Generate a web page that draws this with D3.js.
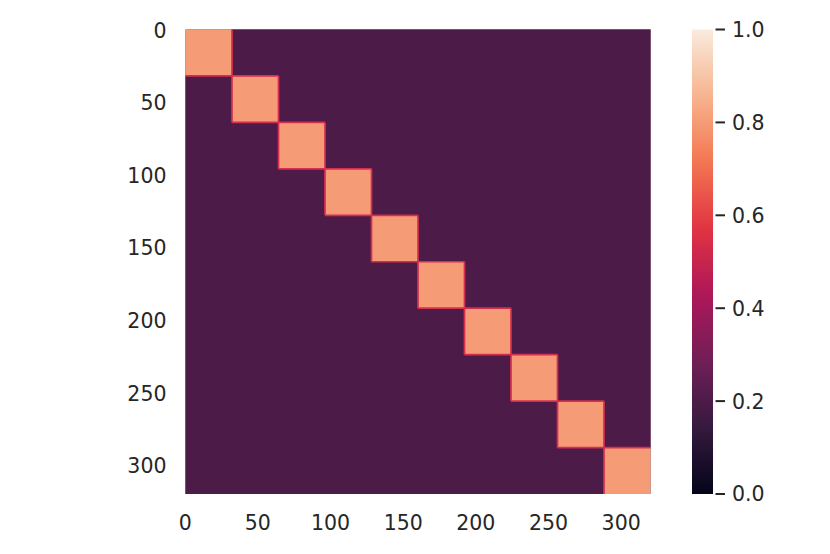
<!DOCTYPE html>
<html>
<head>
<meta charset="utf-8">
<script src="https://cdn.jsdelivr.net/npm/d3@7"></script>
<style>
  body { margin: 0; background: #fff; }
  text { font-family: "DejaVu Sans", sans-serif; fill: #262626; }
</style>
</head>
<body>
<div id="chart"></div>
<script>
// block boundaries of the 320 x 320 matrix (10 blocks of 32)
const blockEdges = [0, 32, 64, 96, 128, 160, 192, 224, 256, 288, 320]
const diagValue = 0.8
const offDiagValue = 0.2
const axisTicks = [0, 50, 100, 150, 200, 250, 300]
const colorTicks = [0.0, 0.2, 0.4, 0.6, 0.8, 1.0]
// seaborn "rocket" colour stops
const rocketStops = [0, 0.143, 0.286, 0.429, 0.571, 0.714, 0.857, 1]
const rocketColors = ["#03051a", "#35193e", "#701f57", "#ad1759", "#e13342", "#f37651", "#f6b48f", "#faebdd"]

const W = 830, H = 554
const IMG = { LEFT: 185.5, RIGHT: 650.5, TOP: 29.5, BOTTOM: 494 }
const CBAR = { LEFT: 692, RIGHT: 713 }
const FONT = 20.5

const svg = d3.select("#chart").append("svg")
    .attr("width", W)
    .attr("height", H)

const x = d3.scaleLinear().domain([-0.5, 319.5]).range([IMG.LEFT, IMG.RIGHT])
const y = d3.scaleLinear().domain([-0.5, 319.5]).range([IMG.TOP, IMG.BOTTOM])
const color = d3.scaleLinear().domain(rocketStops).range(rocketColors).interpolate(d3.interpolateRgb)

// cells: one per block pair
const blocks = d3.pairs(blockEdges)
const cells = []
blocks.forEach((r, i) => blocks.forEach((c, j) => {
    cells.push({ r0: r[0], r1: r[1], c0: c[0], c1: c[1], value: i === j ? diagValue : offDiagValue })
}))

// underlay so anti-aliased cell seams don't show
svg.append("rect")
    .attr("x", x(-0.5)).attr("y", y(-0.5))
    .attr("width", x(319.5) - x(-0.5))
    .attr("height", y(319.5) - y(-0.5))
    .attr("fill", color(offDiagValue))

svg.append("g").selectAll("rect")
    .data(cells)
    .enter().append("rect")
        .attr("x", d => x(d.c0 - 0.5))
        .attr("y", d => y(d.r0 - 0.5))
        .attr("width", d => x(d.c1 - 0.5) - x(d.c0 - 0.5))
        .attr("height", d => y(d.r1 - 0.5) - y(d.r0 - 0.5))
        .attr("fill", d => color(d.value))

// interpolation seams at internal block boundaries
const inner = blockEdges.slice(1, -1)
const seams = svg.append("g")
    .attr("stroke", "#d52f50")
    .attr("stroke-width", 1.7)
seams.selectAll(".v").data(inner).enter().append("line")
    .attr("x1", k => x(k - 0.5)).attr("x2", k => x(k - 0.5))
    .attr("y1", k => y(k - 32 - 0.5)).attr("y2", k => y(k + 32 - 0.5))
seams.selectAll(".h").data(inner).enter().append("line")
    .attr("y1", k => y(k - 0.5)).attr("y2", k => y(k - 0.5))
    .attr("x1", k => x(k - 32 - 0.5)).attr("x2", k => x(k + 32 - 0.5))

// axis labels (no visible tick marks)
svg.append("g").selectAll("text")
    .data(axisTicks)
    .enter().append("text")
        .attr("x", d => x(d) - 1)
        .attr("y", 529.5)
        .attr("text-anchor", "middle")
        .style("font-size", FONT + "px")
        .text(d => d)

svg.append("g").selectAll("text")
    .data(axisTicks)
    .enter().append("text")
        .attr("x", 166.5)
        .attr("y", d => y(d) + FONT * 0.3645)
        .attr("text-anchor", "end")
        .style("font-size", FONT + "px")
        .text(d => d)

// colorbar
const cy = d3.scaleLinear().domain([0, 1]).range([IMG.BOTTOM, IMG.TOP])
const grad = svg.append("defs").append("linearGradient")
    .attr("id", "cbar")
    .attr("x1", 0).attr("y1", 1).attr("x2", 0).attr("y2", 0)
grad.selectAll("stop")
    .data(d3.range(0, 1.0001, 0.02))
    .enter().append("stop")
        .attr("offset", d => d)
        .attr("stop-color", d => color(d))

svg.append("rect")
    .attr("x", CBAR.LEFT)
    .attr("y", cy(1))
    .attr("width", CBAR.RIGHT - CBAR.LEFT)
    .attr("height", cy(0) - cy(1))
    .attr("fill", "url(#cbar)")

const cticks = svg.append("g").selectAll("g")
    .data(colorTicks)
    .enter().append("g")
        .attr("transform", d => `translate(0, ${cy(d)})`)
cticks.append("line")
    .attr("x1", CBAR.RIGHT + 2.5).attr("x2", CBAR.RIGHT + 12)
    .attr("stroke", "#262626")
    .attr("stroke-width", 2)
cticks.append("text")
    .attr("x", 732)
    .attr("y", FONT * 0.3645)
    .style("font-size", FONT + "px")
    .text(d => d.toFixed(1))
</script>
</body>
</html>
